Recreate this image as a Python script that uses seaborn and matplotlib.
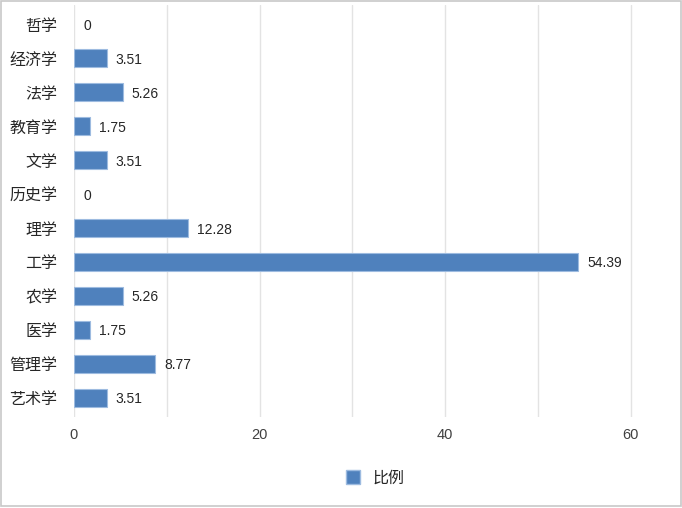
import matplotlib
matplotlib.use("Agg")
import matplotlib.pyplot as plt
import seaborn as sns
import pandas as pd

# data
categories = ["哲学", "经济学", "法学", "教育学", "文学", "历史学", "理学",
              "工学", "农学", "医学", "管理学", "艺术学"]
values = [0, 3.51, 5.26, 1.75, 3.51, 0, 12.28, 54.39, 5.26, 1.75, 8.77, 3.51]
labels = ["0", "3.51", "5.26", "1.75", "3.51", "0", "12.28", "54.39",
          "5.26", "1.75", "8.77", "3.51"]
series_name = "比例"

df = pd.DataFrame({"学科": categories, series_name: values})

sns.set_style("white")
plt.rcParams["font.family"] = ["Noto Sans CJK SC", "DejaVu Sans"]
num_font = ["Liberation Sans", "DejaVu Sans"]

fig = plt.figure(figsize=(6.82, 5.08), dpi=100)
ax = fig.add_axes([0.1085, 0.179, 0.884, 0.811])

bar_color = "#4f81bd"
sns.barplot(data=df, x=series_name, y="学科", orient="h", ax=ax,
            color=bar_color, saturation=1, width=0.53,
            edgecolor="#9dbbe0", linewidth=0.8)

# no outline on empty bars
for p in ax.patches:
    if p.get_width() == 0:
        p.set_linewidth(0)

txts = ax.bar_label(ax.containers[0], labels=labels, padding=6.5, fontsize=10,
                    color="#262626", family=num_font)
for t in txts:
    t.set_va("center_baseline")

ax.set_xlim(0, 65)
ax.set_ylim(11.57, -0.57)
ax.set_xticks([0, 20, 40, 60])
ax.set_xticks([10, 30, 50], minor=True)
ax.grid(axis="x", which="both", color="#e3e3e3", linewidth=1)
ax.set_axisbelow(True)
for s in ax.spines.values():
    s.set_visible(False)
ax.set_xlabel("")
ax.set_ylabel("")
ax.tick_params(axis="x", which="both", length=0, labelsize=10.5,
               colors="#404040", pad=8)
for t in ax.get_xticklabels():
    t.set_family(num_font)
ax.tick_params(axis="y", length=0, labelsize=11.5, colors="#262626", pad=12)

handle = plt.Rectangle((0, 0), 1, 1, facecolor=bar_color, edgecolor="#9dbbe0")
ax.legend([handle], [series_name], loc="center", bbox_to_anchor=(0.5, -0.148),
          frameon=False, fontsize=11.5, handlelength=0.9, handleheight=0.9,
          handletextpad=0.8, labelcolor="#262626")

# outer chart border
fig.patches.append(plt.Rectangle((0.001, 0.003), 0.997, 0.995,
                                 transform=fig.transFigure, fill=False,
                                 edgecolor="#c8c8c8", linewidth=1.2))

fig.savefig("out.png", dpi=100)
